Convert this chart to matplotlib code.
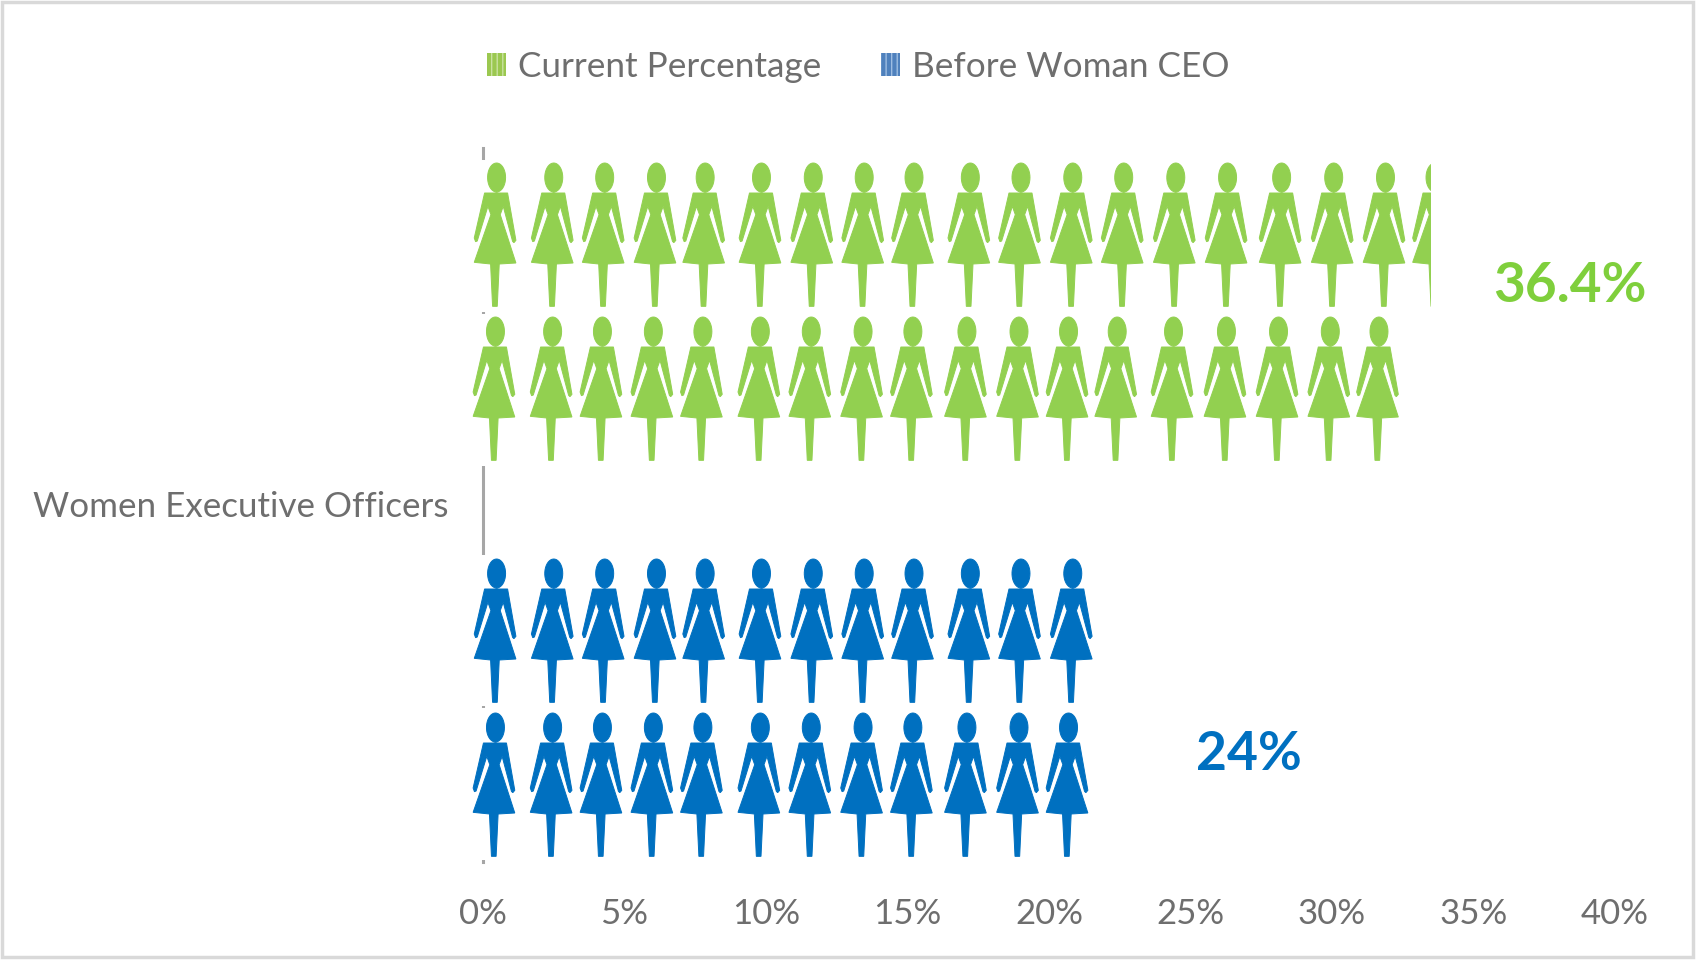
import numpy as np
import matplotlib
matplotlib.use('Agg')
import matplotlib.pyplot as plt
from matplotlib.patches import Patch, PathPatch, Rectangle
from matplotlib.path import Path

plt.rcParams['font.family'] = ['Lato', 'DejaVu Sans']
plt.rcParams['hatch.linewidth'] = 1.0

# data
category = 'Women Executive Officers'
series_names = ['Current Percentage', 'Before Woman CEO']
value_labels = ['36.4%', '24%']
x_ticks = [0, 5, 10, 15, 20, 25, 30, 35, 40]
x_tick_labels = ['0%', '5%', '10%', '15%', '20%', '25%', '30%', '35%', '40%']

# where each bar ends on the % axis (icons are cut off there)
bar_ends = [33.5, 32.4, 21.6, 21.4]

# head centre of every icon on the % axis
green_top = [0.48, 2.50, 4.30, 6.13, 7.85, 9.84, 11.67, 13.47, 15.23, 17.22, 19.01, 20.84,
             22.64, 24.48, 26.31, 28.22, 30.06, 31.89, 33.64]
green_bottom = [0.44, 2.46, 4.22, 6.02, 7.77, 9.80, 11.60, 13.43, 15.19, 17.10, 18.94, 20.69,
                22.41, 24.40, 26.27, 28.11, 29.94, 31.66]
blue_top = [0.48, 2.50, 4.30, 6.13, 7.85, 9.84, 11.67, 13.47, 15.23, 17.22, 19.01, 20.84]
blue_bottom = [0.44, 2.46, 4.22, 6.02, 7.77, 9.80, 11.60, 13.43, 15.19, 17.10, 18.94, 20.69]

GREEN = '#92D050'
BLUE = '#0070C0'
LABEL_GREEN = '#7FCF3C'
GREY = '#6E6E6E'

W, H = 1696, 961
X0, X40, Y_TOP, Y_BOT = 483, 1615, 148, 862
px_per_pct = (X40 - X0) / 40

# icon outline in pixels, relative to top of the head
body = np.array([(-36, 90), (33, 90), (58, 232), (52, 239), (48, 235), (20, 130), (11, 155),
                 (58, 300), (8, 303), (2, 430), (-12, 430), (-18, 303), (-67, 298), (-17, 155),
                 (-26, 130), (-58, 234), (-63, 236), (-67, 225), (-36, 90)], dtype=float) / 3
t = np.linspace(0, 2 * np.pi, 40)
head = np.column_stack([9 * np.cos(t), 14.5 + 14.5 * np.sin(t)])


def draw_person(ax, x, top, color, clip):
    b = body.copy()
    h = head.copy()
    b[:, 0] = x + b[:, 0] / px_per_pct
    h[:, 0] = x + h[:, 0] / px_per_pct
    b[:, 1] += top
    h[:, 1] += top
    path = Path.make_compound_path(Path(b, closed=True), Path(h, closed=True))
    p = PathPatch(path, facecolor=color, edgecolor=color, linewidth=0.7, zorder=4)
    ax.add_patch(p)
    p.set_clip_path(clip)


fig = plt.figure(figsize=(W / 100, H / 100), dpi=100)
ax = fig.add_axes([X0 / W, 1 - Y_BOT / H, (X40 - X0) / W, (Y_BOT - Y_TOP) / H])
ax.set_xlim(0, 40)
ax.set_ylim(Y_BOT, Y_TOP)

# (bar top, bar bottom, head top)
rows = [(160, 312, 163), (314, 466, 317), (555, 706, 559), (708, 860, 713)]
people = [green_top, green_bottom, blue_top, blue_bottom]
colors = [GREEN, GREEN, BLUE, BLUE]

for (y0, y1, head_top), xs, c, end in zip(rows, people, colors, bar_ends):
    # white bar hides the axis line behind the icons
    ax.barh((y0 + y1) / 2, end + 0.15, left=-0.15, height=y1 - y0, color='white', zorder=3,
            clip_on=False)
    clip = Rectangle((-2, y0 - 5), end + 2, y1 - y0 + 10, transform=ax.transData)
    for x in xs:
        draw_person(ax, x, head_top, c, clip)

ax.text(38.4, 286, value_labels[0], color=LABEL_GREEN, fontsize=39.5, fontweight='bold',
        ha='center', va='center')
ax.text(27.07, 755, value_labels[1], color=BLUE, fontsize=38.5, fontweight='bold',
        ha='center', va='center')

for s in ['top', 'right', 'bottom']:
    ax.spines[s].set_visible(False)
ax.spines['left'].set_color('#A6A6A6')
ax.spines['left'].set_linewidth(2.2)

ax.set_xticks(x_ticks)
ax.set_xticklabels(x_tick_labels, fontsize=25, color=GREY)
ax.set_yticks([504])
ax.set_yticklabels([category], fontsize=25.2, color=GREY)
ax.tick_params(axis='x', length=0, pad=26)
ax.tick_params(axis='y', length=0, pad=25)

handles = [Patch(facecolor='#9BC850', edgecolor='#C9E2A0', hatch='|||', linewidth=0),
           Patch(facecolor='#4F81BD', edgecolor='#9DBDE2', hatch='|||', linewidth=0)]
fig.legend(handles, series_names, loc='center', bbox_to_anchor=(858 / W, 1 - 67 / H), ncol=2,
           frameon=False, fontsize=25.3, labelcolor=GREY, handlelength=0.55, handleheight=0.6,
           handletextpad=0.33, columnspacing=1.7)

# chart frame
fig.add_artist(Rectangle((2 / W, 4 / H), (W - 5) / W, (H - 6) / H, transform=fig.transFigure,
                         fill=False, edgecolor='#D9D9D9', linewidth=2.5))

fig.savefig('out.png', dpi=100, facecolor='white')
